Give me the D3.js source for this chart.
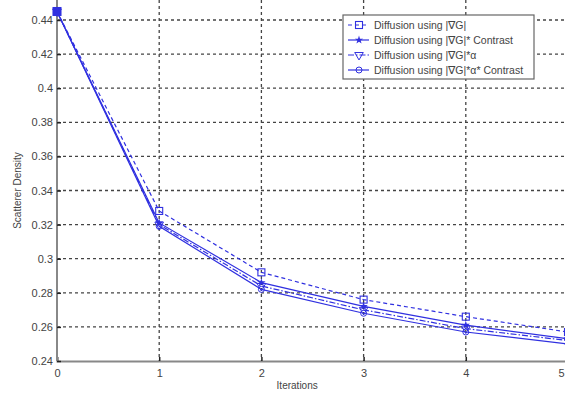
<!DOCTYPE html>
<html>
<head>
<meta charset="utf-8">
<script src="https://cdn.jsdelivr.net/npm/d3@7"></script>
<style>
  body { margin: 0; background: #fff; }
  svg { display: block; font-family: "Liberation Sans", Arial, sans-serif; }
</style>
</head>
<body>
<div id="chart"></div>
<script>
// data
const iterations = [0, 1, 2, 3, 4, 5];
const gradG = [0.445, 0.328, 0.292, 0.276, 0.266, 0.257];
const gradGContrast = [0.445, 0.321, 0.286, 0.272, 0.261, 0.253];
const gradGAlpha = [0.445, 0.320, 0.284, 0.270, 0.259, 0.252];
const gradGAlphaContrast = [0.445, 0.319, 0.282, 0.268, 0.257, 0.250];
const seriesNames = [
  'Diffusion using |\u2207G|',
  'Diffusion using |\u2207G|* Contrast',
  'Diffusion using |\u2207G|*\u03b1',
  'Diffusion using |\u2207G|*\u03b1* Contrast'
];
const yTicks = [0.24, 0.26, 0.28, 0.3, 0.32, 0.34, 0.36, 0.38, 0.4, 0.42, 0.44];
const xTicks = [0, 1, 2, 3, 4, 5];

const width = 565, height = 394;
const margin = { top: 20, right: -3, bottom: 33, left: 57 };
const blue = '#3030e0';

const svg = d3.select('#chart').append('svg')
  .attr('width', width)
  .attr('height', height);

const x = d3.scaleLinear().domain([0, 5]).range([margin.left, width - margin.right]);
const y = d3.scaleLinear().domain([0.24, 0.44]).range([height - margin.bottom, margin.top]);

// grid
const grid = svg.append('g').attr('class', 'grid')
  .attr('stroke', '#444').attr('stroke-width', 1.3).attr('stroke-dasharray', '3,3');
grid.selectAll('line.h').data(yTicks.slice(1)).enter().append('line')
  .attr('class', 'h')
  .attr('x1', margin.left).attr('x2', width)
  .attr('y1', d => y(d)).attr('y2', d => y(d));
grid.selectAll('line.v').data(xTicks.slice(1)).enter().append('line')
  .attr('class', 'v')
  .attr('x1', d => x(d)).attr('x2', d => x(d))
  .attr('y1', 0).attr('y2', y(0.24));

// axes
const xAxis = svg.append('g')
  .attr('transform', `translate(0,${y(0.24)})`)
  .call(d3.axisBottom(x).tickValues(xTicks).tickFormat(d3.format('d')).tickSize(-4).tickPadding(8));
const yAxis = svg.append('g')
  .attr('transform', `translate(${margin.left},0)`)
  .call(d3.axisLeft(y).tickValues(yTicks).tickFormat(d => String(+d.toFixed(2))).tickSize(-4).tickPadding(4));
[xAxis, yAxis].forEach(a => {
  a.select('.domain').attr('stroke', '#888').attr('stroke-width', 2);
  a.selectAll('.tick line').attr('stroke', '#222').attr('stroke-width', 1.5);
  a.selectAll('.tick text').attr('fill', '#444').attr('font-size', 11);
});
yAxis.select('.domain').attr('d', `M0,0V${y(0.24)}`);
// last tick label sits at the cropped right edge; pull it inside
xAxis.selectAll('.tick text').filter(d => d === 5).attr('text-anchor', 'end').attr('dx', -4);

svg.append('text')
  .attr('x', x(2.35)).attr('y', 389)
  .attr('text-anchor', 'middle').attr('font-size', 10).attr('fill', '#444')
  .text('Iterations');
svg.append('text')
  .attr('transform', `translate(21,${y(0.34)}) rotate(-90)`)
  .attr('text-anchor', 'middle').attr('font-size', 10).attr('fill', '#444')
  .text('Scatterer Density');

// series
const series = [
  { name: seriesNames[0], values: gradG, dash: '4,3', marker: 'square' },
  { name: seriesNames[1], values: gradGContrast, dash: null, marker: 'star' },
  { name: seriesNames[2], values: gradGAlpha, dash: '6,2,1.5,2', marker: 'triangle' },
  { name: seriesNames[3], values: gradGAlphaContrast, dash: null, marker: 'circle' }
];

const line = d3.line().x((d, i) => x(iterations[i])).y(d => y(d));

function drawMarker(g, type, cx, cy) {
  if (type === 'square') {
    g.append('rect').attr('x', cx - 3.5).attr('y', cy - 3.5).attr('width', 7).attr('height', 7)
      .attr('fill', 'none').attr('stroke', blue).attr('stroke-width', 1.1);
  } else if (type === 'star') {
    g.append('path').attr('d', d3.symbol(d3.symbolStar, 22)()).attr('transform', `translate(${cx},${cy})`)
      .attr('fill', blue);
  } else if (type === 'triangle') {
    g.append('path').attr('d', d3.symbol(d3.symbolTriangle, 32)()).attr('transform', `translate(${cx},${cy}) rotate(180)`)
      .attr('fill', 'none').attr('stroke', blue).attr('stroke-width', 1);
  } else {
    g.append('circle').attr('cx', cx).attr('cy', cy).attr('r', 3)
      .attr('fill', 'none').attr('stroke', blue).attr('stroke-width', 1);
  }
}

const plot = svg.append('g');
series.forEach(s => {
  plot.append('path').datum(s.values)
    .attr('fill', 'none').attr('stroke', blue).attr('stroke-width', 1.2)
    .attr('stroke-dasharray', s.dash)
    .attr('d', line);
  const mg = plot.append('g');
  s.values.forEach((v, i) => drawMarker(mg, s.marker, x(iterations[i]), y(v)));
});
// filled start point
plot.append('rect').attr('x', x(0) - 4.5).attr('y', y(0.445) - 4.5).attr('width', 9).attr('height', 9).attr('fill', blue);

// legend
const lg = svg.append('g').attr('transform', 'translate(343,15)');
lg.append('rect').attr('width', 191).attr('height', 64)
  .attr('fill', '#fff').attr('stroke', '#666').attr('stroke-width', 1.2);
series.forEach((s, i) => {
  const ry = 10 + i * 15;
  lg.append('line').attr('x1', 5).attr('x2', 26).attr('y1', ry).attr('y2', ry)
    .attr('stroke', blue).attr('stroke-width', 1.2).attr('stroke-dasharray', s.dash);
  drawMarker(lg, s.marker, 16, ry);
  lg.append('text').attr('x', 31).attr('y', ry + 3.5)
    .attr('font-size', 10.5).attr('fill', '#444').text(s.name);
});
</script>
</body>
</html>
